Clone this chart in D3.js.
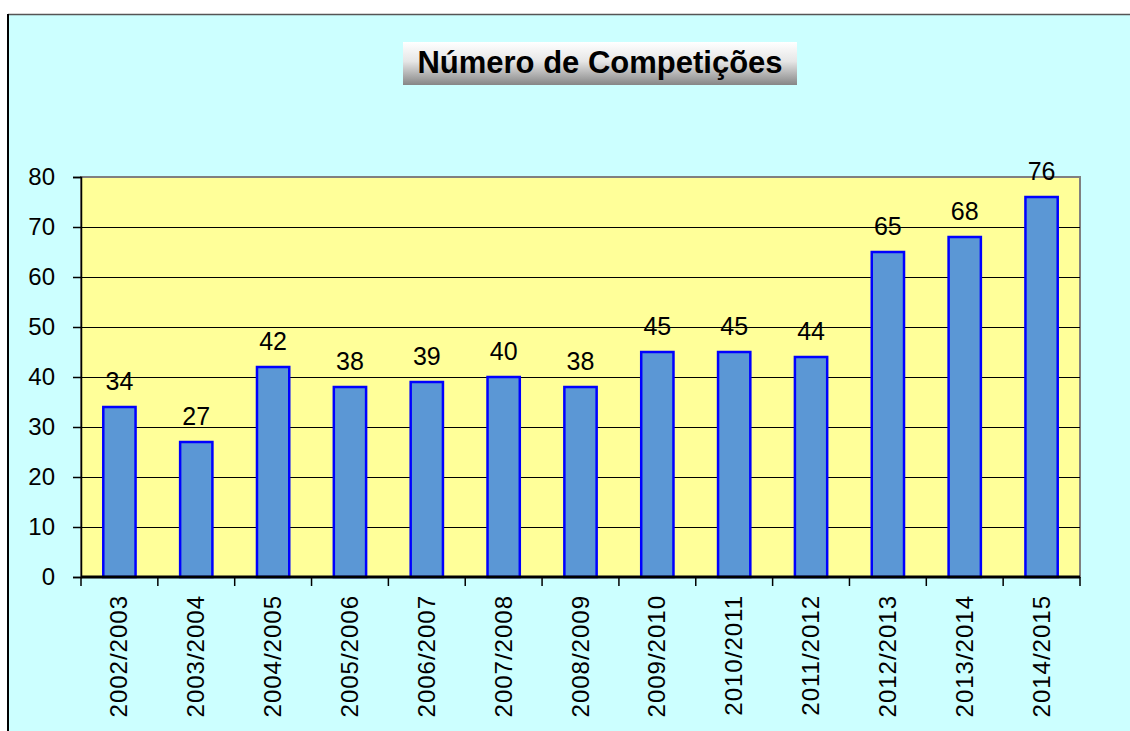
<!DOCTYPE html>
<html>
<head>
<meta charset="utf-8">
<script src="https://cdn.jsdelivr.net/npm/d3@7"></script>
<style>
  body { margin: 0; background: #fff; }
  text { font-family: Arial, "Liberation Sans", sans-serif; }
</style>
</head>
<body>
<script>
var seasons = ["2002/2003","2003/2004","2004/2005","2005/2006","2006/2007","2007/2008","2008/2009",
               "2009/2010","2010/2011","2011/2012","2012/2013","2013/2014","2014/2015"];
var competitions = [34,27,42,38,39,40,38,45,45,44,65,68,76];
var yTicks = [0,10,20,30,40,50,60,70,80];
var title = "Número de Competições";

var W = 1130, H = 731;
var svg = d3.select("body").append("svg").attr("width", W).attr("height", H);

// gradient for title box
var grad = svg.append("defs").append("linearGradient")
      .attr("id","tg").attr("x1","0").attr("y1","0").attr("x2","0").attr("y2","1");
grad.append("stop").attr("offset","0%").attr("stop-color","#ffffff");
grad.append("stop").attr("offset","45%").attr("stop-color","#e6e6e6");
grad.append("stop").attr("offset","100%").attr("stop-color","#868686");

// chart background
svg.append("rect").attr("x",8).attr("y",14).attr("width",W).attr("height",H)
      .attr("fill","#ccffff");
svg.append("line").attr("x1",8).attr("y1",14.5).attr("x2",W).attr("y2",14.5)
      .attr("stroke","#555").attr("stroke-width",1.5);
svg.append("line").attr("x1",8).attr("y1",14).attr("x2",8).attr("y2",H)
      .attr("stroke","#000").attr("stroke-width",2);

var pLeft = 81, pRight = 1080, pTop = 177, pBottom = 577;

var x = d3.scaleBand().domain(seasons).range([pLeft, pRight]).padding(0);
var y = d3.scaleLinear().domain([0, 80]).range([pBottom, pTop]);

// plot area
svg.append("rect").attr("x",pLeft).attr("y",pTop).attr("width",pRight-pLeft).attr("height",pBottom-pTop)
      .attr("fill","#ffff99").attr("stroke","#808080").attr("stroke-width",2);

// gridlines
svg.selectAll("line.grid")
      .data(yTicks.filter(function(d){ return d > 0 && d < 80; }))
      .enter().append("line")
            .attr("class","grid")
            .attr("x1",pLeft).attr("x2",pRight)
            .attr("y1",function(d){ return Math.round(y(d))+0.5; })
            .attr("y2",function(d){ return Math.round(y(d))+0.5; })
            .attr("stroke","#000").attr("stroke-width",1);

// y axis
var yAxis = svg.append("g").attr("transform","translate(" + pLeft + ",0)")
      .call(d3.axisLeft(y).tickValues(yTicks).tickSize(8).tickPadding(18));
yAxis.select(".domain").attr("stroke","#000").attr("stroke-width",1.5);
yAxis.selectAll(".tick line").attr("stroke","#000").attr("stroke-width",1.5);
yAxis.selectAll(".tick text").attr("font-size","24px").attr("fill","#000")
      .attr("font-family","Arial, 'Liberation Sans', sans-serif");

// bars
var bw = x.bandwidth() * 0.42;
svg.selectAll("rect.bar")
      .data(competitions)
      .enter().append("rect")
            .attr("class","bar")
            .attr("x",function(d,i){ return x(seasons[i]) + (x.bandwidth()-bw)/2; })
            .attr("y",function(d){ return y(d); })
            .attr("width",bw)
            .attr("height",function(d){ return pBottom - y(d); })
            .attr("fill","#5b97d5")
            .attr("stroke","#0000ff")
            .attr("stroke-width",2.5);

// x axis
svg.append("line").attr("x1",pLeft).attr("x2",pRight).attr("y1",pBottom).attr("y2",pBottom)
      .attr("stroke","#000").attr("stroke-width",3);
var bounds = seasons.map(function(s){ return x(s); }).concat([pRight]);
svg.selectAll("line.xtick")
      .data(bounds)
      .enter().append("line")
            .attr("class","xtick")
            .attr("x1",function(d){ return d; }).attr("x2",function(d){ return d; })
            .attr("y1",pBottom).attr("y2",pBottom+9)
            .attr("stroke","#000").attr("stroke-width",1.5);

svg.selectAll("text.xlab")
      .data(seasons)
      .enter().append("text")
            .attr("class","xlab")
            .attr("transform",function(d){
                  return "translate(" + (x(d) + x.bandwidth()/2 + 8) + "," + (pBottom+18) + ") rotate(-90)";
            })
            .attr("text-anchor","end")
            .attr("font-size","24px")
            .attr("letter-spacing","1px")
            .attr("fill","#000")
            .text(function(d){ return d; });

// value labels
svg.selectAll("text.val")
      .data(competitions)
      .enter().append("text")
            .attr("class","val")
            .attr("x",function(d,i){ return x(seasons[i]) + x.bandwidth()/2; })
            .attr("y",function(d){ return y(d) - 17; })
            .attr("text-anchor","middle")
            .attr("font-size","25px")
            .attr("fill","#000")
            .text(function(d){ return d; });

// title
svg.append("rect").attr("x",403).attr("y",42).attr("width",394).attr("height",43)
      .attr("fill","url(#tg)");
svg.append("text").text(title)
      .attr("x",600).attr("y",73)
      .attr("text-anchor","middle")
      .attr("font-size","31px")
      .attr("font-weight","bold")
      .attr("fill","#000");
</script>
</body>
</html>
